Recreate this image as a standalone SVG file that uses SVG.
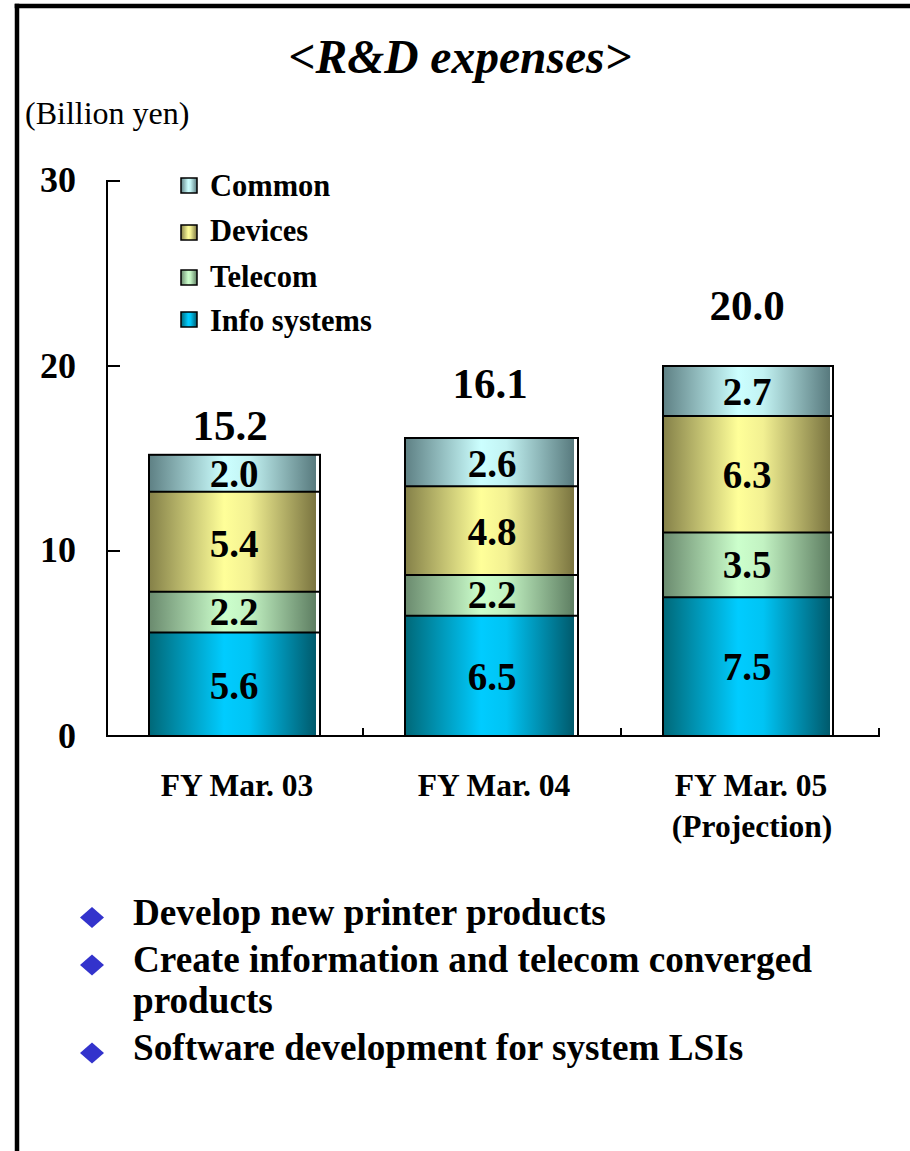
<svg xmlns="http://www.w3.org/2000/svg" width="910" height="1151" viewBox="0 0 910 1151">
<style>
text{font-family:'Liberation Serif','DejaVu Serif',serif;fill:#000}
.ax{font-size:36px;font-weight:bold;text-anchor:end}
.val{font-size:39px;font-weight:bold;text-anchor:middle}
.tot{font-size:43px;font-weight:bold;text-anchor:middle}
.cat{font-size:31.5px;font-weight:bold;text-anchor:middle}
.leg{font-size:30.5px;font-weight:bold}
.bul{font-size:37.2px;font-weight:bold}
.seg{fill:none;stroke:#000;stroke-width:2}
.dia{fill:#3333CC}
</style>
<defs>
<linearGradient id="gInfo" x1="0" x2="1" y1="0" y2="0">
<stop offset="0" stop-color="#006878"/><stop offset="0.45" stop-color="#00CCFF"/><stop offset="0.6" stop-color="#00C4F4"/><stop offset="1" stop-color="#005A6C"/>
</linearGradient>
<linearGradient id="gTel" x1="0" x2="1" y1="0" y2="0">
<stop offset="0" stop-color="#6A8A6E"/><stop offset="0.45" stop-color="#CCFFCC"/><stop offset="0.6" stop-color="#C2F2C2"/><stop offset="1" stop-color="#5E7E62"/>
</linearGradient>
<linearGradient id="gDev" x1="0" x2="1" y1="0" y2="0">
<stop offset="0" stop-color="#848048"/><stop offset="0.45" stop-color="#FFFF99"/><stop offset="0.6" stop-color="#F2F092"/><stop offset="1" stop-color="#7A7440"/>
</linearGradient>
<linearGradient id="gCom" x1="0" x2="1" y1="0" y2="0">
<stop offset="0" stop-color="#5E8084"/><stop offset="0.45" stop-color="#CCFFFF"/><stop offset="0.6" stop-color="#C2F2F2"/><stop offset="1" stop-color="#587A7E"/>
</linearGradient>
</defs>

<g id="frame" stroke="#000" stroke-width="4.5" fill="none">
<line x1="14.7" y1="6" x2="910" y2="6"/>
<line x1="17" y1="3.7" x2="17" y2="1151"/>
</g>

<g font-family="Liberation Serif, DejaVu Serif, serif">
<text x="460" y="73" font-size="47.5" font-weight="bold" font-style="italic" text-anchor="middle">&lt;R&amp;D expenses&gt;</text>
<text x="25" y="124" font-size="32">(Billion yen)</text>

<g id="axes" stroke="#000" stroke-width="2" fill="none">
<line x1="107" y1="180" x2="107" y2="737"/>
<line x1="106" y1="181" x2="120" y2="181"/>
<line x1="106" y1="366" x2="120" y2="366"/>
<line x1="106" y1="551" x2="120" y2="551"/>
<line x1="106" y1="736" x2="880" y2="736"/>
<line x1="363" y1="728" x2="363" y2="736"/>
<line x1="621" y1="728" x2="621" y2="736"/>
<line x1="879" y1="728" x2="879" y2="736"/>
</g>
<g id="ylabels">
<text class="ax" x="76" y="192">30</text>
<text class="ax" x="76" y="378">20</text>
<text class="ax" x="76" y="562">10</text>
<text class="ax" x="76" y="748">0</text>
</g>

<g id="legend">
<rect x="181" y="178" width="16" height="15" fill="url(#gCom)" stroke="#000" stroke-width="1.5"/>
<text class="leg" x="210" y="196">Common</text>
<rect x="181" y="225" width="16" height="15" fill="url(#gDev)" stroke="#000" stroke-width="1.5"/>
<text class="leg" x="210" y="241">Devices</text>
<rect x="181" y="270" width="16" height="15" fill="url(#gTel)" stroke="#000" stroke-width="1.5"/>
<text class="leg" x="210" y="287">Telecom</text>
<rect x="181" y="312" width="16" height="15" fill="url(#gInfo)" stroke="#000" stroke-width="1.5"/>
<text class="leg" x="210" y="331">Info systems</text>
</g>

<g id="bar1">
<rect x="149" y="632.4" width="167" height="103.6" fill="url(#gInfo)"/>
<rect x="149" y="591.7" width="167" height="40.7" fill="url(#gTel)"/>
<rect x="149" y="491.8" width="167" height="99.9" fill="url(#gDev)"/>
<rect x="149" y="454.8" width="167" height="37" fill="url(#gCom)"/>
<rect class="seg" x="149" y="454.8" width="171" height="281.2"/>
<line class="seg" x1="149" y1="632.4" x2="320" y2="632.4"/>
<line class="seg" x1="149" y1="591.7" x2="320" y2="591.7"/>
<line class="seg" x1="149" y1="491.8" x2="320" y2="491.8"/>
<text class="val" x="234" y="699">5.6</text>
<text class="val" x="234" y="625">2.2</text>
<text class="val" x="234" y="557">5.4</text>
<text class="val" x="234" y="487">2.0</text>
<text class="tot" x="230" y="440">15.2</text>
</g>

<g id="bar2">
<rect x="405" y="615.8" width="169" height="120.2" fill="url(#gInfo)"/>
<rect x="405" y="574.9" width="169" height="40.9" fill="url(#gTel)"/>
<rect x="405" y="486.2" width="169" height="88.7" fill="url(#gDev)"/>
<rect x="405" y="438" width="169" height="48.2" fill="url(#gCom)"/>
<rect class="seg" x="405" y="438" width="173" height="298"/>
<line class="seg" x1="405" y1="615.8" x2="578" y2="615.8"/>
<line class="seg" x1="405" y1="574.9" x2="578" y2="574.9"/>
<line class="seg" x1="405" y1="486.2" x2="578" y2="486.2"/>
<text class="val" x="492" y="690">6.5</text>
<text class="val" x="492" y="608">2.2</text>
<text class="val" x="492" y="545">4.8</text>
<text class="val" x="492" y="477">2.6</text>
<text class="tot" x="490" y="398">16.1</text>
</g>

<g id="bar3">
<rect x="663" y="597.3" width="167" height="138.7" fill="url(#gInfo)"/>
<rect x="663" y="532.5" width="167" height="64.8" fill="url(#gTel)"/>
<rect x="663" y="416" width="167" height="116.5" fill="url(#gDev)"/>
<rect x="663" y="366" width="167" height="50" fill="url(#gCom)"/>
<rect class="seg" x="663" y="366" width="170" height="370"/>
<line class="seg" x1="663" y1="597.3" x2="833" y2="597.3"/>
<line class="seg" x1="663" y1="532.5" x2="833" y2="532.5"/>
<line class="seg" x1="663" y1="416" x2="833" y2="416"/>
<text class="val" x="747" y="680">7.5</text>
<text class="val" x="747" y="578">3.5</text>
<text class="val" x="747" y="488">6.3</text>
<text class="val" x="747" y="405">2.7</text>
<text class="tot" x="747" y="320">20.0</text>
</g>

<g id="xlabels">
<text class="cat" x="237" y="796">FY Mar. 03</text>
<text class="cat" x="494" y="796">FY Mar. 04</text>
<text class="cat" x="751" y="796">FY Mar. 05</text>
<text class="cat" x="752" y="837">(Projection)</text>
</g>

<g id="bullets">
<polygon class="dia" points="92,907 104,917.5 92,928 80,917.5"/>
<text class="bul" x="133" y="925">Develop new printer products</text>
<polygon class="dia" points="92,954.5 104,965 92,975.5 80,965"/>
<text class="bul" x="133" y="972">Create information and telecom converged</text>
<text class="bul" x="133" y="1013">products</text>
<polygon class="dia" points="92,1042.5 104,1053 92,1063.5 80,1053"/>
<text class="bul" x="133" y="1060">Software development for system LSIs</text>
</g>
</g>
</svg>
